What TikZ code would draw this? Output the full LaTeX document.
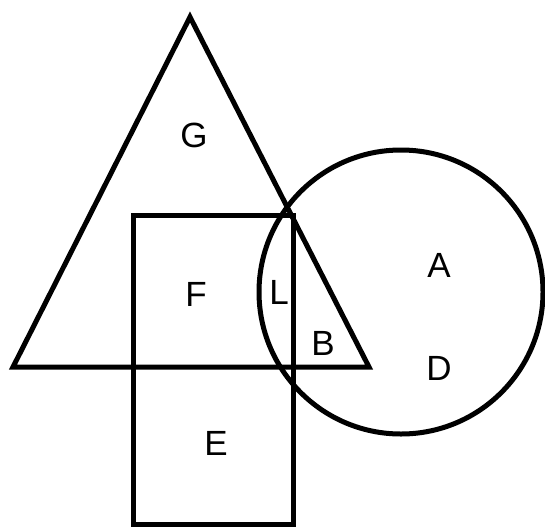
\documentclass[tikz,border=0pt]{standalone}
\usepackage{fontspec}
\setmainfont{Liberation Sans}
\begin{document}
\begin{tikzpicture}[x=1pt,y=-1pt,
  shape line/.style={line width=5pt,line join=miter},
  lbl/.style={font=\fontsize{35}{35}\selectfont,inner sep=0pt}]
\useasboundingbox (0,0) rectangle (545,530);
\coordinate (apex) at (190,17);
\coordinate (bl) at (13,367);
\coordinate (br) at (369,367);
\coordinate (r1) at (133,215);
\coordinate (r2) at (293,524);
\coordinate (c) at (401,292);
\draw[shape line] (apex) -- (bl) -- (br) -- cycle;
\draw[shape line] (r1) rectangle (r2);
\draw[shape line] (c) circle[radius=142];
\node[lbl] (G) at (194,135) {G};
\node[lbl] (F) at (196,294) {F};
\node[lbl] (L) at (279,292) {L};
\node[lbl] (B) at (323,343) {B};
\node[lbl] (A) at (439,265) {A};
\node[lbl] (D) at (439,368) {D};
\node[lbl] (E) at (216,443) {E};
\end{tikzpicture}
\end{document}
